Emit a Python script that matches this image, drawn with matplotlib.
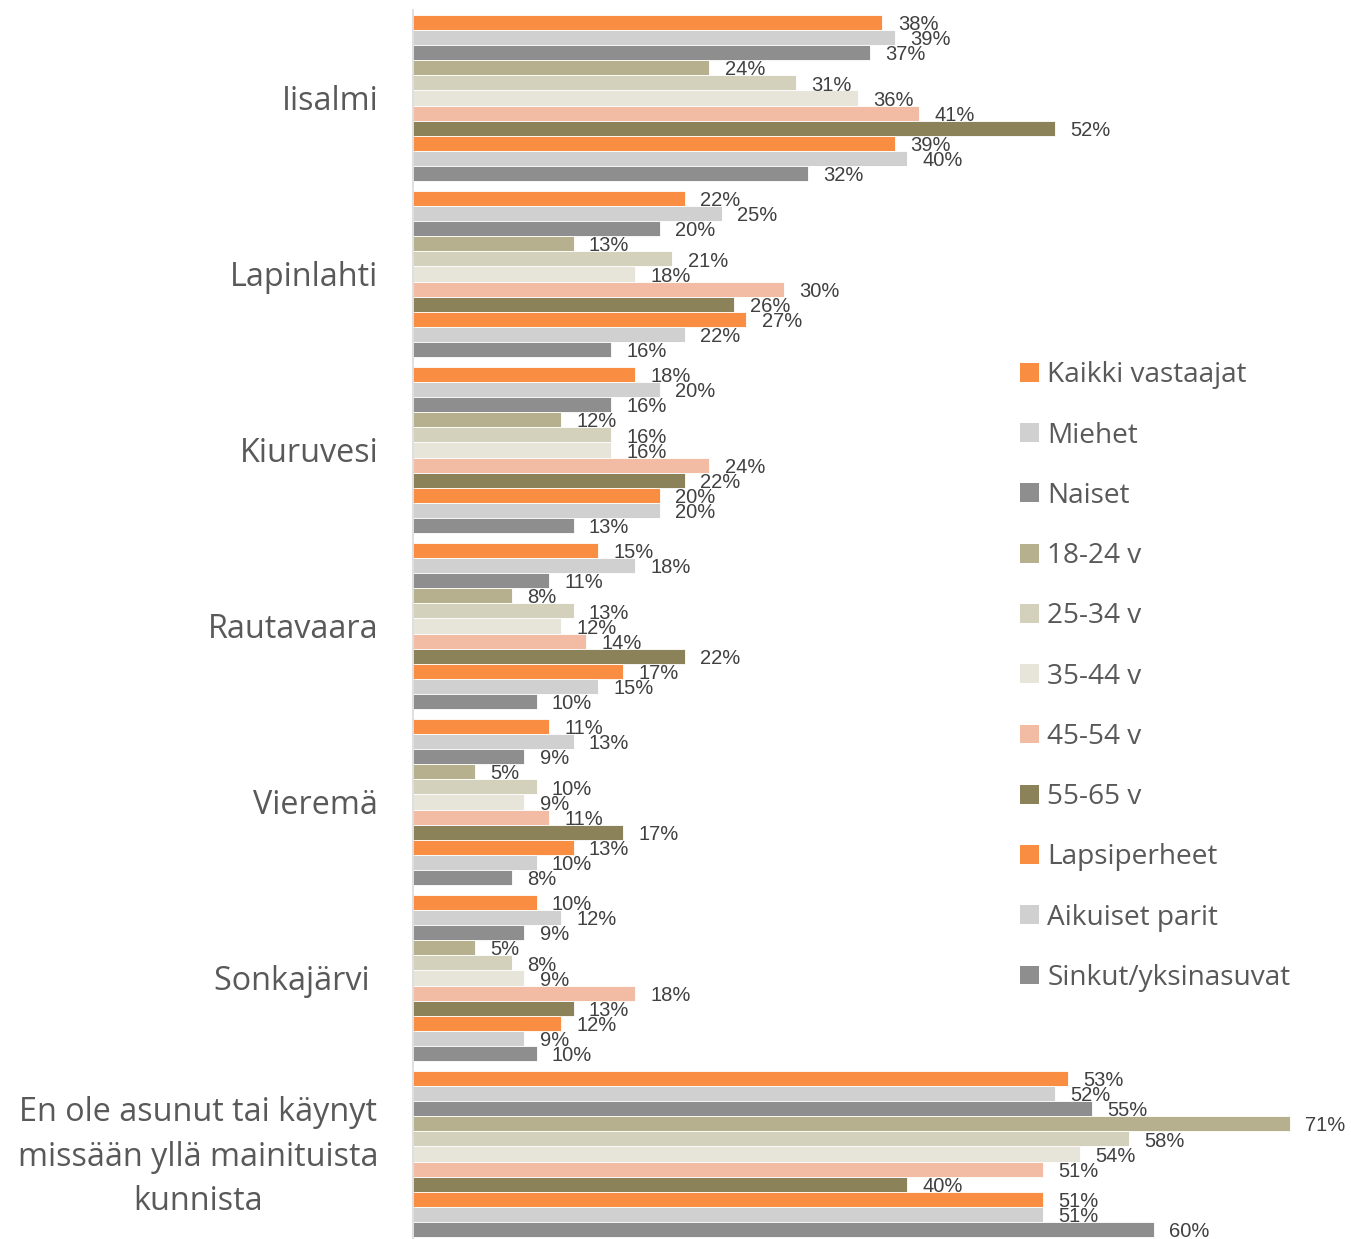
import matplotlib
matplotlib.use("Agg")
import matplotlib.pyplot as plt
import matplotlib.transforms as mtransforms
from matplotlib.patches import Patch
import numpy as np

categories = ["Iisalmi", "Lapinlahti", "Kiuruvesi", "Rautavaara", "Vieremä", "Sonkajärvi ",
              "En ole asunut tai käynyt\nmissään yllä mainituista\nkunnista"]
series = ["Kaikki vastaajat", "Miehet", "Naiset", "18-24 v", "25-34 v", "35-44 v",
          "45-54 v", "55-65 v", "Lapsiperheet", "Aikuiset parit", "Sinkut/yksinasuvat"]
kaikki = [38, 22, 18, 15, 11, 10, 53]
miehet = [39, 25, 20, 18, 13, 12, 52]
naiset = [37, 20, 16, 11, 9, 9, 55]
v18_24 = [24, 13, 12, 8, 5, 5, 71]
v25_34 = [31, 21, 16, 13, 10, 8, 58]
v35_44 = [36, 18, 16, 12, 9, 9, 54]
v45_54 = [41, 30, 24, 14, 11, 18, 51]
v55_65 = [52, 26, 22, 22, 17, 13, 40]
lapsiperheet = [39, 27, 20, 17, 13, 12, 51]
aikuiset = [40, 22, 20, 15, 10, 9, 51]
sinkut = [32, 16, 13, 10, 8, 10, 60]
values = [kaikki, miehet, naiset, v18_24, v25_34, v35_44, v45_54, v55_65,
          lapsiperheet, aikuiset, sinkut]
colors = ["#F98E42", "#D0D0D0", "#8E8E8E", "#B7B08E", "#D3D1BC", "#E7E5DA",
          "#F2BCA4", "#8B8259", "#F98E42", "#D0D0D0", "#8E8E8E"]

W, H = 1351, 1239
fig = plt.figure(figsize=(W / 100, H / 100), dpi=100)
left = 413 / W
top_px, bot_px = 10, 1242
ax = fig.add_axes([left, (H - bot_px) / H, 1 - left, (bot_px - top_px) / H])

n = len(series)
group = 166 / 176
bh = group / n
y = np.arange(len(categories))
for j, (vals, c) in enumerate(zip(values, colors)):
    pos = y - group / 2 + bh * (j + 0.5)
    ax.barh(pos, vals, height=bh, color=c, edgecolor="white", linewidth=0.6)
    for p, v in zip(pos, vals):
        ax.text(v + 1.25, p + 0.012, f"{v}%", va="center", ha="left",
                fontsize=14.5, color="#404040",
                family=["Liberation Sans", "DejaVu Sans"])

ax.set_xlim(0, (W - 413) / 12.35)
ax.set_ylim(len(categories) - 0.5, -0.5)
ax.set_yticks(y)
ax.set_yticklabels(categories, fontsize=23.3, color="#595959", family="Open Sans",
                   multialignment="center", linespacing=1.47, va="center")
ax.tick_params(axis="y", length=0, pad=25)
shift = mtransforms.ScaledTranslation(0, -3 / 100, fig.dpi_scale_trans)
for lbl in ax.get_yticklabels():
    lbl.set_transform(lbl.get_transform() + shift)
ax.set_xticks([])
for s in ["top", "right", "bottom"]:
    ax.spines[s].set_visible(False)
ax.spines["left"].set_color("#D9D9D9")
ax.spines["left"].set_linewidth(1.2)

handles = [Patch(facecolor=c, edgecolor="none") for c in colors]
leg = fig.legend(handles, series, loc="upper left",
                 bbox_to_anchor=(995 / W, (H - 336) / H), frameon=False,
                 prop={"family": "Open Sans", "size": 20.2}, labelcolor="#595959",
                 handlelength=0.66, handleheight=0.66, handletextpad=0.3,
                 labelspacing=1.15)

fig.savefig("out.png", dpi=100)
